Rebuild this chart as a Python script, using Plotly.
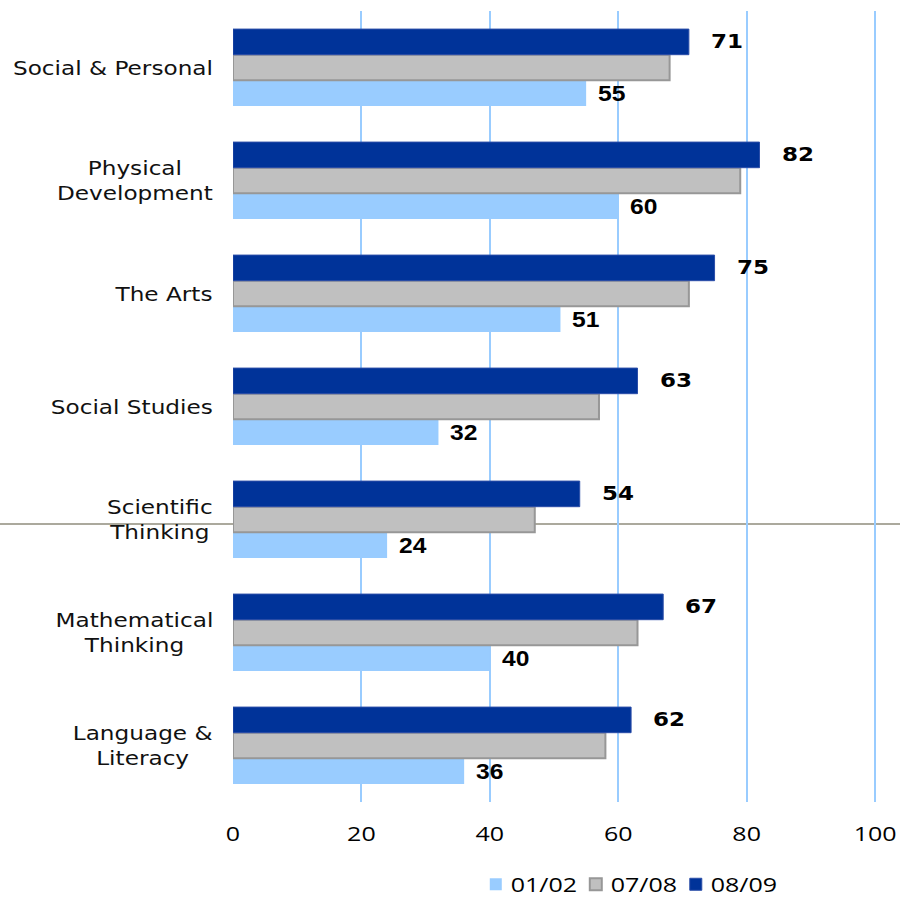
import plotly.graph_objects as go

# Learning areas, listed bottom-to-top as they appear on the category axis
categories = [
    "Language & Literacy",
    "Mathematical Thinking",
    "Scientific Thinking",
    "Social Studies",
    "The Arts",
    "Physical Development",
    "Social & Personal",
]
category_labels = [
    "Language &<br>Literacy",
    "Mathematical<br>Thinking",
    "Scientific<br>Thinking",
    "Social Studies",
    "The Arts",
    "Physical<br>Development",
    "Social & Personal",
]

series_names = ["01/02", "07/08", "08/09"]
values_0102 = [36, 40, 24, 32, 51, 60, 55]
values_0708 = [58, 63, 47, 57, 71, 79, 68]
values_0809 = [62, 67, 54, 63, 75, 82, 71]

x_ticks = [0, 20, 40, 60, 80, 100]

LIGHT = "#99CCFF"
GREY = "#C0C0C0"
DARK = "#003399"

fig = go.Figure()
fig.add_trace(go.Bar(
    y=categories, x=values_0102, name=series_names[0], orientation="h",
    marker=dict(color=LIGHT, line=dict(width=0)),
))
fig.add_trace(go.Bar(
    y=categories, x=values_0708, name=series_names[1], orientation="h",
    marker=dict(color=GREY, line=dict(color="#979797", width=2)),
))
fig.add_trace(go.Bar(
    y=categories, x=values_0809, name=series_names[2], orientation="h",
    marker=dict(color=DARK, line=dict(color="#2A4DA8", width=1)),
))

BAR_PX = 25.7  # vertical offset of the outer bars from the group centre

annotations = []
# category names, centred lines, right edge just left of the plot
for cat, lab in zip(categories, category_labels):
    annotations.append(dict(
        x=-0.028, xref="paper", y=cat, yref="y", text=lab, showarrow=False,
        xanchor="right", yanchor="middle", align="center",
        font=dict(family="DejaVu Sans", size=19, color="#111111"),
    ))
# value labels on the 01/02 bars
for cat, v in zip(categories, values_0102):
    annotations.append(dict(
        x=v, xref="x", y=cat, yref="y", text=str(v), showarrow=False,
        xanchor="left", yanchor="middle", xshift=10, yshift=-BAR_PX,
        font=dict(family="Liberation Sans", size=22, color="#000000", weight="bold"),
    ))
# value labels on the 08/09 bars
for cat, v in zip(categories, values_0809):
    annotations.append(dict(
        x=v, xref="x", y=cat, yref="y", text=str(v), showarrow=False,
        xanchor="left", yanchor="middle", xshift=20, yshift=BAR_PX + 1,
        font=dict(family="DejaVu Sans", size=20, color="#000000", weight="bold"),
    ))

fig.update_layout(
    width=900, height=901,
    margin=dict(l=233, r=23, t=11, b=99, autoexpand=False),
    paper_bgcolor="white", plot_bgcolor="white",
    barmode="group", bargap=0.32, bargroupgap=0,
    annotations=annotations,
    showlegend=True,
    legend=dict(
        orientation="h", x=0.377, xanchor="left", y=-0.104, yanchor="middle",
        font=dict(family="Open Sans", size=20, color="#000000"),
        bgcolor="rgba(0,0,0,0)", itemwidth=30,
        entrywidth=55, entrywidthmode="pixels",
    ),
    shapes=[dict(
        type="line", xref="paper", yref="paper",
        x0=-233 / 644, x1=667 / 644, y0=0.3513, y1=0.3513,
        line=dict(color="#ABA99D", width=2), layer="below",
    )],
)
fig.update_xaxes(
    range=[0, 100.3], tickvals=x_ticks, showgrid=True, gridcolor=LIGHT, gridwidth=2,
    zeroline=False, showline=False, ticks="",
    tickfont=dict(family="Open Sans", size=20, color="#000000"),
    ticklabelstandoff=18, fixedrange=True,
)
fig.update_yaxes(
    range=[-0.5, 6.5], showticklabels=False, showgrid=False, zeroline=False,
    showline=False, ticks="", fixedrange=True,
)

# Widen the lettering horizontally, keeping each label pinned at its anchor side.
widen_text = """
var gd = document.getElementById('{plot_id}');
function widen(nodes, s, anchor, dx) {
  nodes.forEach(function (t) {
    var b = t.getBBox();
    var ax = anchor === 'right' ? b.x + b.width : (anchor === 'left' ? b.x : b.x + b.width / 2);
    var prev = t.getAttribute('transform') || '';
    t.setAttribute('transform', prev + ' translate(' + (ax * (1 - s) + (dx || 0)) + ',0) scale(' + s + ',1)');
  });
}
var ann = Array.prototype.slice.call(gd.querySelectorAll('.annotation-text'));
var cats = ann.slice(0, 7), low = ann.slice(7, 14), high = ann.slice(14, 21);
widen(cats, 1.22, 'right', 0);
widen(low, 1.12, 'left', 0);
widen(high, 1.15, 'left', 0);
widen(Array.prototype.slice.call(gd.querySelectorAll('.xtick text')), 1.25, 'middle', 0);
widen(Array.prototype.slice.call(gd.querySelectorAll('.legendtext')), 1.25, 'left', -5);
gd.querySelectorAll('.legend [clip-path]').forEach(function (e) { e.removeAttribute('clip-path'); });
"""

fig.write_html("out.html", post_script=widen_text)
